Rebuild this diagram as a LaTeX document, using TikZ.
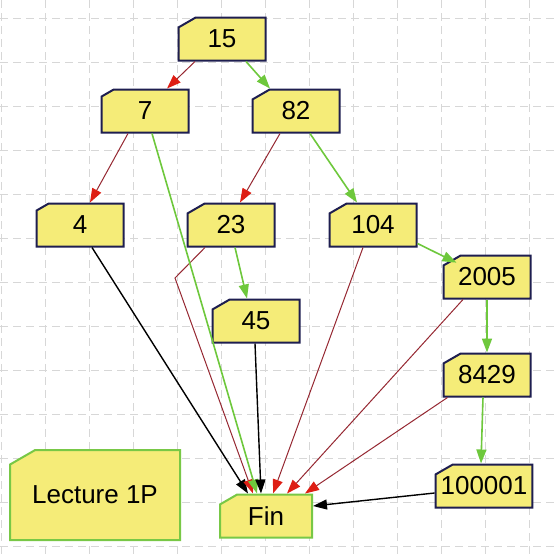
\documentclass[tikz,border=0pt]{standalone}
\usepackage{fontspec}
\setmainfont{Liberation Sans}
\definecolor{keyfill}{RGB}{245, 236, 120}
\definecolor{keyline}{RGB}{30, 30, 80}
\definecolor{finline}{RGB}{120, 200, 70}
\definecolor{gridgray}{RGB}{215, 215, 215}
\definecolor{leftred}{RGB}{222, 30, 20}
\definecolor{leftline}{RGB}{150, 40, 50}
\definecolor{rightgreen}{RGB}{110, 200, 60}
\usetikzlibrary{shapes.misc, arrows.meta, calc}

\begin{document}
\begin{tikzpicture}[x=0.5pt, y=-0.5pt,
  key/.style={chamfered rectangle, chamfered rectangle corners=north west,
    chamfered rectangle angle=60, chamfered rectangle xsep=2.5pt,
    draw=keyline, fill=keyfill, line width=1pt, inner sep=0pt,
    minimum width=43.5pt, minimum height=21.5pt, font=\fontsize{13}{15}\selectfont},
  gridline/.style={draw=gridgray, line width=0.5pt, dash pattern=on 4pt off 2.5pt},
  toleft/.style={draw=leftline, line width=0.5pt, -{Triangle[length=7pt, width=5pt, color=leftred]}},
  toright/.style={draw=rightgreen, line width=0.8pt, -{Triangle[length=7pt, width=5pt]}},
  tonull/.style={draw=black, line width=0.7pt, -{Triangle[length=7pt, width=5pt]}}]

  \fill[white] (0,0) rectangle (554,558);
  \useasboundingbox (0,0) rectangle (554,558);

  % grid
  \foreach \gx in {1,45,...,529}
    \draw[gridline] (\gx,0) -- (\gx,558);
  \foreach \gy in {18,62,...,546}
    \draw[gridline] (0,\gy) -- (554,\gy);

  % keys of the tree
  \node[key] (n15) at (222,39) {15};
  \node[key] (n7) at (145,111) {7};
  \node[key] (n82) at (296,111) {82};
  \node[key] (n4) at (80,225) {4};
  \node[key] (n23) at (231,225) {23};
  \node[key] (n104) at (373,225) {104};
  \node[key] (n2005) at (487,277) {2005};
  \node[key] (n45) at (256,321) {45};
  \node[key] (n8429) at (487,375) {8429};
  \node[key, minimum width=46pt] (n100001) at (484,486) {100001};

  % end node and title
  \node[key, draw=finline, minimum width=46pt] (fin) at (266,516) {Fin};
  \node[key, draw=finline, minimum width=85pt, minimum height=45pt,
    chamfered rectangle xsep=6.5pt] (lecture) at (95,495) {Lecture 1P};

  % left links
  \draw[toleft] ($(n15.south)+(-27,0)$) -- ($(n7.north)+(22,0)$);
  \draw[toleft] ($(n7.south)+(-17,0)$) -- ($(n4.north)+(10,0)$);
  \draw[toleft] ($(n82.south)+(-16,0)$) -- ($(n23.north)+(9,0)$);

  % right links
  \draw[toright] ($(n15.south)+(24,0)$) -- ($(n82.north)+(-26,0)$);
  \draw[toright] ($(n82.south)+(14,0)$) -- ($(n104.north)+(-16,0)$);
  \draw[toright] ($(n23.south)+(4,0)$) -- ($(n45.north)+(-9,0)$);
  \draw[toright] ($(n104.south east)+(0,-4)$) -- ($(n2005.north west)+(5,3)$);
  \draw[toright] (n2005.south) -- (n8429.north);
  \draw[toright] ($(n8429.south)+(-4,0)$) -- ($(n100001.north)+(-3,0)$);

  % links to Fin
  \coordinate (bend23) at (175,278);
  \draw[tonull] ($(n4.south)+(12,0)$) -- ($(fin.north)+(-18,0)$);
  \draw[toleft] ($(n23.south)+(-26,0)$) -- (bend23) -- ($(fin.north)+(-13,0)$);
  \draw[toright] ($(n7.south)+(7,0)$) -- ($(fin.north)+(-9,0)$);
  \draw[tonull] ($(n45.south)+(-1,0)$) -- ($(fin.north)+(-5,0)$);
  \draw[toleft] ($(n104.south)+(-10,0)$) -- ($(fin.north)+(7,0)$);
  \draw[toleft] ($(n2005.south)+(-24,0)$) -- ($(fin.north)+(21,0)$);
  \draw[toleft] ($(n8429.south west)+(5,0)$) -- ($(fin.north east)+(-8,0)$);
  \draw[tonull] ($(n100001.west)+(0,7)$) -- ($(fin.east)+(0,-10)$);
\end{tikzpicture}
\end{document}
